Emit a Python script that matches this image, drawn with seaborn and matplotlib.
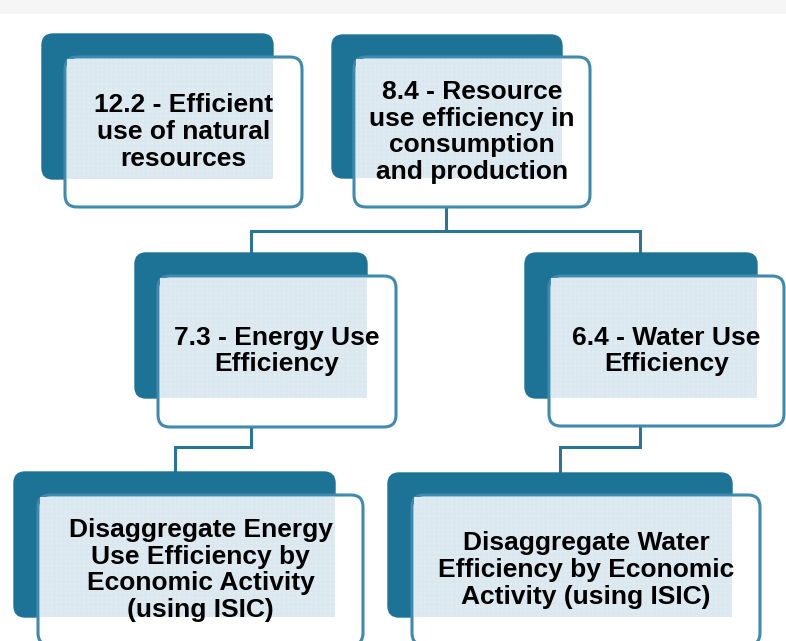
import matplotlib
matplotlib.use("Agg")
import matplotlib.pyplot as plt
import seaborn as sns
from matplotlib.patches import FancyBboxPatch, Rectangle

# ---------------------------------------
# teks di tiap kotak
# ---------------------------------------
labels = [
    "12.2 - Efficient\nuse of natural\nresources",
    "8.4 - Resource\nuse efficiency in\nconsumption\nand production",
    "7.3 - Energy Use\nEfficiency",
    "6.4 - Water Use\nEfficiency",
    "Disaggregate Energy\nUse Efficiency by\nEconomic Activity\n(using ISIC)",
    "Disaggregate Water\nEfficiency by Economic\nActivity (using ISIC)",
]

# kotak gelap di belakang (x, y, lebar, tinggi) dalam piksel
dark_boxes = [
    (42, 34, 231, 145),
    (332, 35, 230, 143),
    (135, 253, 232, 145),
    (525, 253, 232, 145),
    (14, 472, 321, 145),
    (388, 473, 344, 144),
]
# kotak putih di depan
white_boxes = [
    (65, 57, 237, 150),
    (354, 57, 236, 150),
    (158, 276, 238, 151),
    (549, 276, 235, 150),
    (38, 495, 325, 150),
    (412, 495, 348, 150),
]

# garis penghubung
links = [
    [(446, 207), (446, 231)],
    [(251, 253), (251, 231), (640, 231), (640, 253)],
    [(251, 427), (251, 447), (175, 447), (175, 472)],
    [(640, 426), (640, 447), (560, 447), (560, 473)],
]

dark = "#1d7396"
edge = "#3f8aae"

sns.set_theme(style="white")
plt.rcParams["font.family"] = ["Liberation Sans", "DejaVu Sans"]
plt.rcParams["hatch.linewidth"] = 0.5

fig = plt.figure(figsize=(7.86, 6.41), dpi=100)
ax = fig.add_axes([0, 0, 1, 1])
ax.set_xlim(0, 786)
ax.set_ylim(641, 0)
ax.axis("off")

# strip abu-abu di atas
ax.add_patch(Rectangle((0, 0), 786, 14, facecolor="#f6f6f6", edgecolor="none"))

for line in links:
    xs = [p[0] for p in line]
    ys = [p[1] for p in line]
    ax.plot(xs, ys, color="#2a7597", lw=2.2, solid_capstyle="butt",
            solid_joinstyle="miter", zorder=1)

for (x, y, w, h), (wx, wy, ww, wh), text in zip(dark_boxes, white_boxes, labels):
    ax.add_patch(FancyBboxPatch((x, y), w, h,
                                boxstyle="round,pad=0,rounding_size=11",
                                facecolor=dark, edgecolor=dark, lw=1, zorder=2))
    ax.add_patch(FancyBboxPatch((wx, wy), ww, wh,
                                boxstyle="round,pad=0,rounding_size=12",
                                facecolor="white", edgecolor=edge, lw=2.2, zorder=3))
    # pola tekstur biru muda
    ax.add_patch(Rectangle((wx + 2, wy + 2), x + w - wx - 2, y + h - wy - 2,
                           facecolor="white", edgecolor="#dbe8f0",
                           hatch="+" * 13, lw=0, zorder=4))
    ax.text(wx + ww / 2, wy + 75, text,
            ha="center", va="center", fontsize=19, fontweight="bold",
            color="black", linespacing=1.15, zorder=5)

fig.savefig("out.png", dpi=100)
